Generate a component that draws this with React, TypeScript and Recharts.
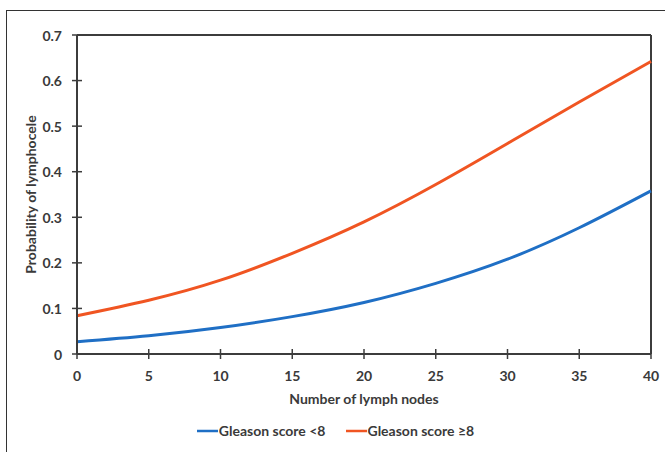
import React from "react";
import { LineChart, Line, XAxis, YAxis, ReferenceLine, Legend } from "recharts";

const lymphNodes = [0, 5, 10, 15, 20, 25, 30, 35, 40];
const gleasonLow = [0.027, 0.04, 0.058, 0.082, 0.113, 0.155, 0.208, 0.277, 0.358];
const gleasonHigh = [0.084, 0.118, 0.162, 0.221, 0.29, 0.372, 0.462, 0.553, 0.642];
const xTicks = [0, 5, 10, 15, 20, 25, 30, 35, 40];
const yTicks = [0, 0.1, 0.2, 0.3, 0.4, 0.5, 0.6, 0.7];
const seriesNames = ["Gleason score <8", "Gleason score \u22658"];
const seriesColors = ["#1f6fc5", "#f05522"];

const data = lymphNodes.map((x, i) => ({ x, low: gleasonLow[i], high: gleasonHigh[i] }));

const FONT = "Lato, 'Open Sans', sans-serif";
const TEXT = "#3a3a3a";
const AXIS = "#3c3c3c";

const XTick = (props: any) => {
  const { x, y, payload } = props;
  return (
    <g>
      <line x1={x} x2={x} y1={y - 5} y2={y + 5} stroke={AXIS} strokeWidth={1.5} />
      <text x={x} y={y + 21} textAnchor="middle" dominantBaseline="central" fill={TEXT}
        style={{ fontFamily: FONT, fontWeight: 700, fontSize: 14 }}>
        {payload.value}
      </text>
    </g>
  );
};

const YTick = (props: any) => {
  const { x, y, payload } = props;
  return (
    <g>
      <line x1={x - 5} x2={x + 5} y1={y} y2={y} stroke={AXIS} strokeWidth={1.5} />
      <text x={x - 15} y={y} textAnchor="end" dominantBaseline="central" fill={TEXT}
        style={{ fontFamily: FONT, fontWeight: 700, fontSize: 14 }}>
        {payload.value}
      </text>
    </g>
  );
};

const YTitle = (props: any) => {
  const vb = props.viewBox || {};
  const cx = 30;
  const cy = vb.y + vb.height / 2;
  return (
    <text x={cx} y={cy} transform={`rotate(-90, ${cx}, ${cy})`} textAnchor="middle" dominantBaseline="central"
      fill={TEXT} style={{ fontFamily: FONT, fontWeight: 700, fontSize: 14 }}>
      Probability of lymphocele
    </text>
  );
};

const XTitle = (props: any) => {
  const vb = props.viewBox || {};
  const cx = vb.x + vb.width / 2;
  const cy = vb.y + 44;
  return (
    <text x={cx} y={cy} textAnchor="middle" dominantBaseline="central"
      fill={TEXT} style={{ fontFamily: FONT, fontWeight: 700, fontSize: 14 }}>
      Number of lymph nodes
    </text>
  );
};

const LegendContent = () => (
  <div style={{ display: "flex", justifyContent: "center", alignItems: "center", gap: 20, paddingLeft: 6 }}>
    {seriesNames.map((n, i) => (
      <div key={n} style={{ display: "flex", alignItems: "center" }}>
        <svg width={21} height={10} style={{ display: "block" }}>
          <line x1={0} x2={21} y1={5} y2={5} stroke={seriesColors[i]} strokeWidth={2.5} />
        </svg>
        <span style={{ fontFamily: FONT, fontWeight: 700, fontSize: 14, color: TEXT, marginLeft: 1 }}>{n}</span>
      </div>
    ))}
  </div>
);

export default function App() {
  return (
    <div style={{ position: "absolute", left: 0, top: 0, width: 665, height: 452, overflow: "hidden", background: "#fff" }}>
      <div style={{ position: "absolute", left: 6, top: 10, width: 720, height: 520, border: "1.5px solid #333" }} />
      <div style={{ position: "absolute", left: 0, top: 0 }}>
        <LineChart width={665} height={452} data={data} margin={{ top: 35, right: 14, left: 0, bottom: 68 }}>
          <XAxis dataKey="x" type="number" domain={[0, 40]} ticks={xTicks} interval={0}
            height={30} tickSize={0} tickMargin={0} tickLine={false} tick={<XTick />}
            axisLine={{ stroke: AXIS, strokeWidth: 2 }} label={<XTitle />} />
          <YAxis type="number" domain={[0, 0.7]} ticks={yTicks} interval={0} width={77}
            tickSize={0} tickMargin={0} tickLine={false} tick={<YTick />}
            axisLine={{ stroke: AXIS, strokeWidth: 2 }} label={<YTitle />} />
          <ReferenceLine y={0.7} stroke={AXIS} strokeWidth={2} />
          <ReferenceLine x={40} stroke={AXIS} strokeWidth={2} />
          <Line dataKey="low" name={seriesNames[0]} type="natural" stroke={seriesColors[0]} strokeWidth={3}
            dot={false} isAnimationActive={false} />
          <Line dataKey="high" name={seriesNames[1]} type="natural" stroke={seriesColors[1]} strokeWidth={3}
            dot={false} isAnimationActive={false} />
          <Legend layout="horizontal" verticalAlign="middle" align="center" content={<LegendContent />}
            wrapperStyle={{ top: 422, left: 0, width: 665 }} />
        </LineChart>
      </div>
    </div>
  );
}
